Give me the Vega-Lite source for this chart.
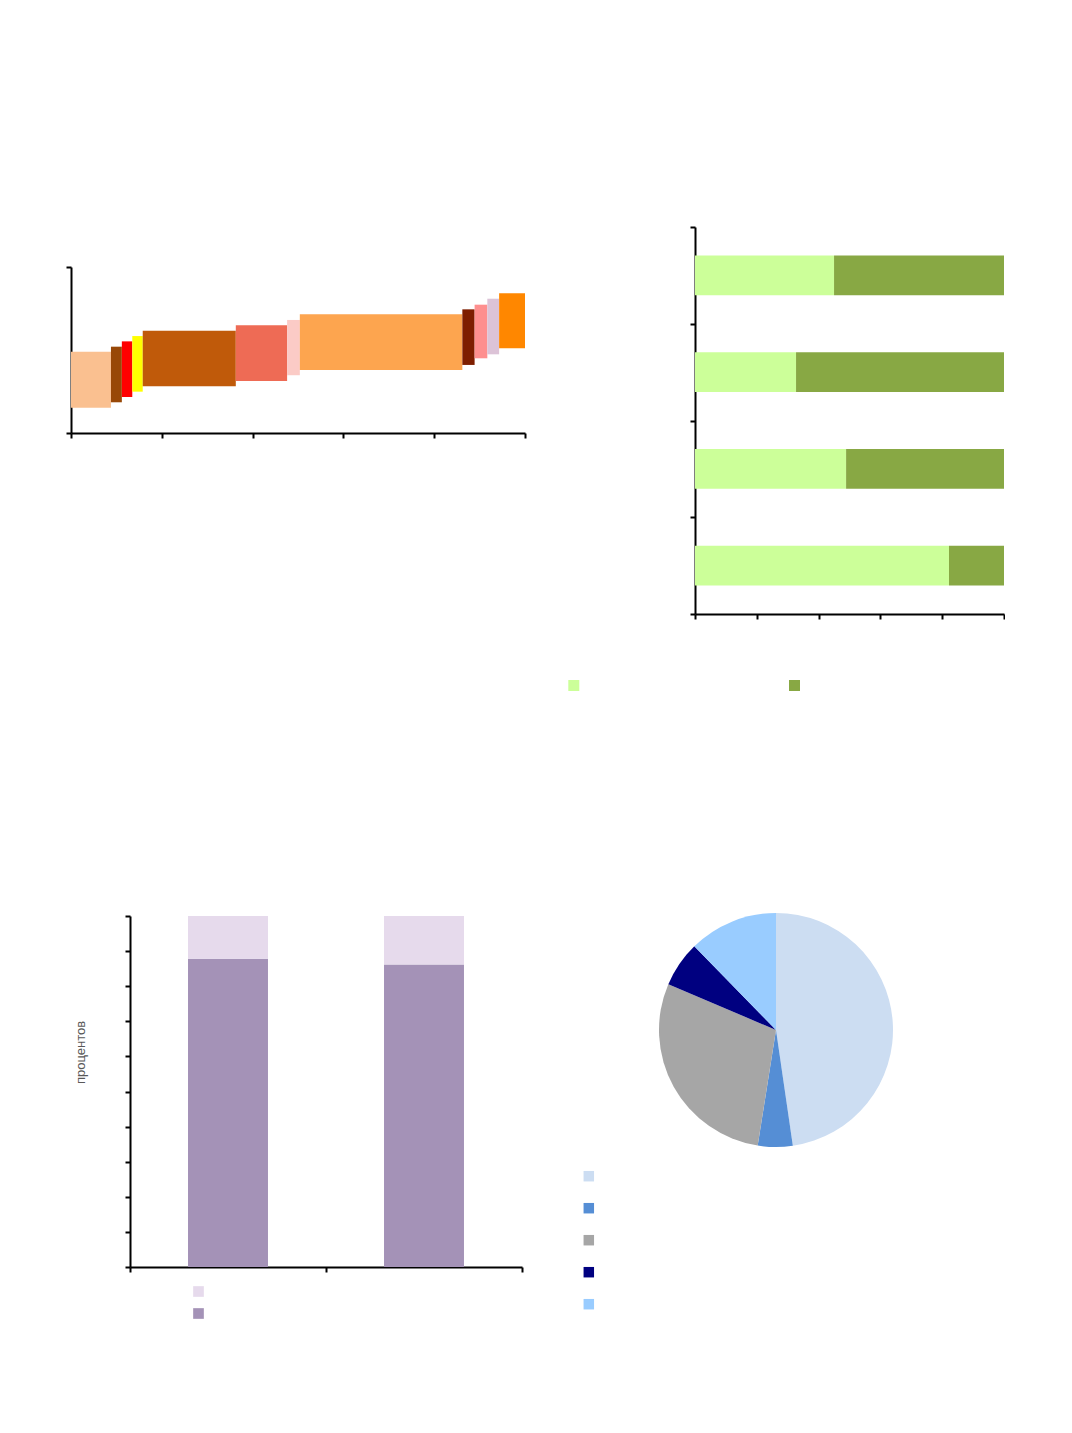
{
  "$schema": "https://vega.github.io/schema/vega-lite/v6.json",
  "background": "white",
  "padding": {"left": 65, "top": 226, "right": 0, "bottom": 0},
  "config": {
    "view": {"stroke": null},
    "axis": {
      "labels": false,
      "grid": false,
      "domainColor": "black",
      "domainWidth": 2,
      "tickColor": "black",
      "tickWidth": 2,
      "tickSize": 5
    },
    "legend": {
      "title": null,
      "orient": "none",
      "labelOffset": 0,
      "padding": 0,
      "symbolType": "square",
      "symbolStrokeWidth": 0,
      "symbolOpacity": 1
    }
  },
  "datasets": {
    "steps": [
      {"seg": "1", "x0": 0, "x1": 8.8, "y0": 15.2, "y1": 49.0},
      {"seg": "2", "x0": 8.8, "x1": 11.2, "y0": 18.5, "y1": 52.0},
      {"seg": "3", "x0": 11.2, "x1": 13.5, "y0": 21.7, "y1": 55.2},
      {"seg": "4", "x0": 13.5, "x1": 15.8, "y0": 24.9, "y1": 58.4},
      {"seg": "5", "x0": 15.8, "x1": 36.3, "y0": 28.1, "y1": 61.6},
      {"seg": "6", "x0": 36.3, "x1": 47.6, "y0": 31.3, "y1": 64.9},
      {"seg": "7", "x0": 47.6, "x1": 50.4, "y0": 34.8, "y1": 68.1},
      {"seg": "8", "x0": 50.4, "x1": 86.2, "y0": 38.0, "y1": 71.5},
      {"seg": "9", "x0": 86.2, "x1": 88.9, "y0": 41.0, "y1": 74.5},
      {"seg": "10", "x0": 88.9, "x1": 91.7, "y0": 45.0, "y1": 77.3},
      {"seg": "11", "x0": 91.7, "x1": 94.3, "y0": 47.4, "y1": 80.9},
      {"seg": "12", "x0": 94.3, "x1": 100, "y0": 51.0, "y1": 84.2}
    ],
    "shares": [
      {"row": "r1", "series": "s1", "value": 45.0},
      {"row": "r1", "series": "s2", "value": 55.0},
      {"row": "r2", "series": "s1", "value": 32.7},
      {"row": "r2", "series": "s2", "value": 67.3},
      {"row": "r3", "series": "s1", "value": 48.9},
      {"row": "r3", "series": "s2", "value": 51.1},
      {"row": "r4", "series": "s1", "value": 82.2},
      {"row": "r4", "series": "s2", "value": 17.8}
    ],
    "columns": [
      {"col": "c1", "series": "base", "value": 87.8},
      {"col": "c1", "series": "top", "value": 12.2},
      {"col": "c2", "series": "base", "value": 86.2},
      {"col": "c2", "series": "top", "value": 13.8}
    ],
    "pie": [
      {"slice": "p1", "value": 47.7},
      {"slice": "p2", "value": 4.8},
      {"slice": "p3", "value": 28.9},
      {"slice": "p4", "value": 6.3},
      {"slice": "p5", "value": 12.3}
    ]
  },
  "bounds": "flush",
  "spacing": 689,
  "resolve": {"scale": {"color": "independent"}, "legend": {"color": "independent"}},
  "vconcat": [
    {
      "bounds": "flush",
      "spacing": 624,
      "resolve": {"scale": {"color": "independent"}, "legend": {"color": "independent"}},
      "hconcat": [
        {
          "bounds": "flush",
          "spacing": 0,
          "vconcat": [
            {"width": 454, "height": 40, "data": {"values": []}, "mark": "point"},
            {
              "width": 454,
              "height": 166,
              "data": {"name": "steps"},
              "mark": {"type": "rect"},
              "encoding": {
                "x": {"field": "x0", "type": "quantitative", "title": null,
                      "scale": {"domain": [0, 100], "nice": false},
                      "axis": {"values": [0, 20, 40, 60, 80, 100]}},
                "x2": {"field": "x1"},
                "y": {"field": "y0", "type": "quantitative", "title": null,
                      "scale": {"domain": [0, 100], "nice": false},
                      "axis": {"values": [0, 100]}},
                "y2": {"field": "y1"},
                "color": {
                  "field": "seg", "type": "nominal", "legend": null,
                  "scale": {
                    "domain": ["1", "2", "3", "4", "5", "6", "7", "8", "9", "10", "11", "12"],
                    "range": ["#FAC090", "#984807", "#FF0000", "#FFFF00", "#C05A0A", "#EE6B55",
                              "#FBCBC6", "#FDA54F", "#7E1E00", "#FE8F8F", "#DCC3D7", "#FF8700"]
                  }
                }
              }
            }
          ]
        },
        {
          "width": 309,
          "height": 387,
          "data": {"name": "shares"},
          "mark": {"type": "bar", "height": {"band": 0.413}},
          "encoding": {
            "y": {"field": "row", "type": "nominal", "sort": null, "title": null,
                  "scale": {"paddingInner": 0, "paddingOuter": 0},
                  "axis": {"tickBand": "extent"}},
            "x": {"field": "value", "type": "quantitative", "stack": "zero", "title": null,
                  "scale": {"domain": [0, 100], "nice": false},
                  "axis": {"values": [0, 20, 40, 60, 80, 100]}},
            "color": {
              "field": "series", "type": "nominal",
              "scale": {"domain": ["s1", "s2"], "range": ["#CCFF99", "#88A844"]},
              "legend": {"direction": "horizontal", "legendX": -126.7, "legendY": 453,
                         "labelExpr": "''", "symbolSize": 121, "columnPadding": 209.7}
            },
            "order": {"field": "series", "sort": "ascending"}
          }
        }
      ]
    },
    {
      "bounds": "flush",
      "spacing": 40,
      "resolve": {"scale": {"color": "independent"}, "legend": {"color": "independent"}},
      "hconcat": [
        {"width": 19, "height": 10, "data": {"values": []}, "mark": "point"},
        {
          "width": 392,
          "height": 351,
          "data": {"name": "columns"},
          "mark": {"type": "bar", "width": {"band": 0.408}},
          "encoding": {
            "x": {"field": "col", "type": "nominal", "sort": null, "title": null,
                  "scale": {"paddingInner": 0, "paddingOuter": 0},
                  "axis": {"tickBand": "extent"}},
            "y": {"field": "value", "type": "quantitative", "stack": "zero",
                  "title": "процентов",
                  "scale": {"domain": [0, 100], "nice": false},
                  "axis": {"values": [0, 10, 20, 30, 40, 50, 60, 70, 80, 90, 100],
                           "titleColor": "#595959", "titleFont": "Liberation Sans",
                           "titleFontSize": 13, "titleFontWeight": "normal",
                           "titlePadding": 37, "titleY": 136}},
            "color": {
              "field": "series", "type": "nominal",
              "scale": {"domain": ["top", "base"], "range": ["#E6DAEC", "#A492B7"]},
              "legend": {"legendX": 63, "legendY": 370, "labelExpr": "''",
                         "symbolSize": 114, "rowPadding": 11}
            },
            "order": {"field": "series", "sort": "ascending"}
          }
        },
        {
          "width": 428,
          "height": 228,
          "data": {"name": "pie"},
          "mark": {"type": "arc", "radius": 117},
          "encoding": {
            "theta": {"field": "value", "type": "quantitative", "stack": true},
            "color": {
              "field": "slice", "type": "nominal",
              "scale": {"domain": ["p1", "p2", "p3", "p4", "p5"],
                        "range": ["#CCDDF2", "#558ED5", "#A6A6A6", "#000080", "#99CCFF"]},
              "legend": {"legendX": 21.3, "legendY": 254.7, "labelExpr": "''",
                         "symbolSize": 110, "rowPadding": 21}
            },
            "order": {"field": "slice", "sort": "ascending"}
          }
        }
      ]
    }
  ]
}
